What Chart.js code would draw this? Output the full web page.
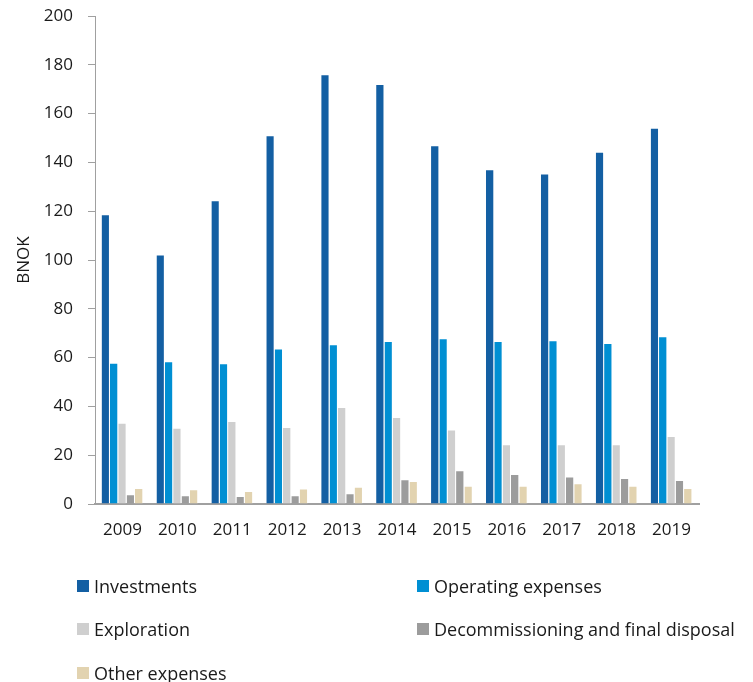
<!DOCTYPE html>
<html>
<head>
<meta charset="utf-8">
<script src="https://cdn.jsdelivr.net/npm/chart.js@4"></script>
<style>
  html, body { margin: 0; padding: 0; background: #fff; }
  #wrap { position: relative; width: 753px; height: 682px; }
  #chart { position: absolute; left: 0; top: 0; }
  .legend-item {
    position: absolute;
    font-family: "Open Sans", sans-serif;
    font-size: 18px;
    color: #1a1a1a;
    line-height: 20px;
    white-space: nowrap;
  }
  .legend-item span {
    position: absolute;
    left: 0; top: 4px;
    width: 12px; height: 12px;
  }
  .legend-item b {
    font-weight: normal;
    padding-left: 17px;
  }
</style>
</head>
<body>
<div id="wrap">
  <canvas id="chart" width="753" height="682"></canvas>
  <div id="legend"></div>
</div>
<script>
// Petroleum sector costs, BNOK
const years = ['2009', '2010', '2011', '2012', '2013', '2014', '2015', '2016', '2017', '2018', '2019'];
const investments = [118.7, 102.3, 124.5, 151.1, 176.1, 172.1, 147.0, 137.2, 135.5, 144.4, 154.2];
const operatingExpenses = [57.9, 58.5, 57.7, 63.7, 65.5, 66.8, 67.9, 66.8, 67.1, 66.0, 68.7];
const exploration = [33.3, 31.3, 34.0, 31.6, 39.8, 35.7, 30.5, 24.5, 24.5, 24.5, 27.9];
const decommissioning = [4.0, 3.6, 3.3, 3.6, 4.4, 10.1, 13.8, 12.3, 11.3, 10.7, 9.8];
const otherExpenses = [6.6, 6.0, 5.3, 6.4, 7.1, 9.4, 7.5, 7.5, 8.5, 7.5, 6.6];
const yTicks = [0, 20, 40, 60, 80, 100, 120, 140, 160, 180, 200];

const seriesNames = ['Investments', 'Operating expenses', 'Exploration', 'Decommissioning and final disposal', 'Other expenses'];
const seriesColors = ['#135fa3', '#008fd3', '#cfcfcf', '#9c9c9c', '#e2d3b0'];
const seriesData = [investments, operatingExpenses, exploration, decommissioning, otherExpenses];

const font = { family: '"Open Sans", sans-serif', size: 17 };
const axisColor = '#a0a0a0';

const ctx = document.getElementById('chart').getContext('2d');
const chart = new Chart(ctx, {
  type: 'bar',
  data: {
    labels: years,
    datasets: seriesData.map((d, i) => ({
      label: seriesNames[i],
      data: d,
      backgroundColor: seriesColors[i],
      borderColor: 'rgba(255,255,255,0.35)',
      borderWidth: { top: 1, right: 1, left: 0, bottom: 0 },
      categoryPercentage: 0.76,
      barPercentage: 1.0
    }))
  },
  options: {
    responsive: false,
    animation: false,
    layout: { padding: { top: 16, right: 54, bottom: 138, left: 0 } },
    plugins: {
      legend: { display: false },
      tooltip: { enabled: false }
    },
    scales: {
      x: {
        grid: { display: true, drawOnChartArea: false, drawTicks: false, color: axisColor },
        border: { color: axisColor, width: 2 },
        ticks: { color: '#1a1a1a', font: font, padding: 16, maxRotation: 0 },
        afterFit(scale) { scale.height = 40; }
      },
      y: {
        min: 0, max: 200,
        afterBuildTicks(scale) { scale.ticks = yTicks.map(v => ({ value: v })); },
        grid: { drawOnChartArea: false, drawTicks: true, tickLength: 7, color: axisColor },
        border: { color: axisColor, width: 1 },
        ticks: { color: '#1a1a1a', font: font, padding: 15 },
        title: { display: true, text: 'BNOK', color: '#1a1a1a', font: { family: font.family, size: 17 }, padding: { top: 14, bottom: 0 } },
        afterFit(scale) {
          scale.width = 95;
          // keep the plot top fixed by the layout padding alone
          scale.paddingTop = 0;
          scale.paddingBottom = 0;
        }
      }
    }
  }
});

// Two-column legend under the plot
const legendPos = [[77, 576], [417, 576], [77, 619], [417, 619], [77, 663]];
const legendEl = document.getElementById('legend');
seriesNames.forEach((name, i) => {
  const item = document.createElement('div');
  item.className = 'legend-item';
  item.style.left = legendPos[i][0] + 'px';
  item.style.top = legendPos[i][1] + 'px';
  item.innerHTML = '<span style="background:' + seriesColors[i] + '"></span><b>' + name + '</b>';
  legendEl.appendChild(item);
});
</script>
</body>
</html>
